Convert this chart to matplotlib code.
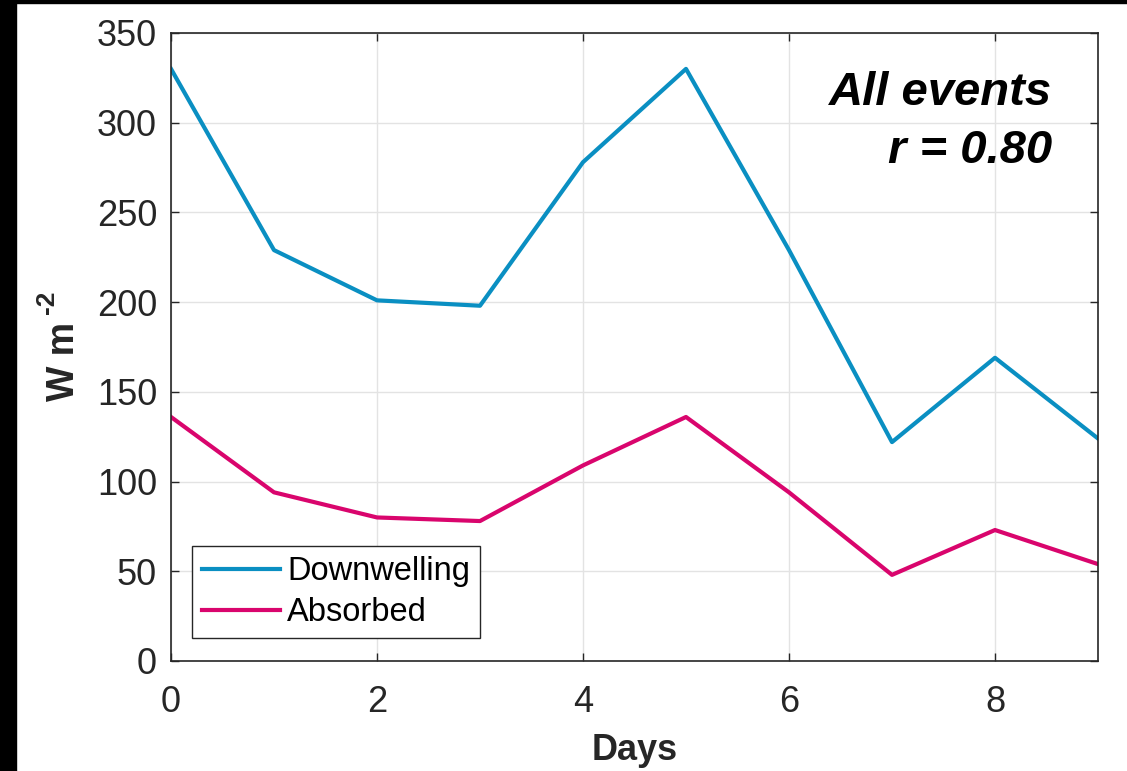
import numpy as np
import matplotlib
matplotlib.use("Agg")
import matplotlib.pyplot as plt
from matplotlib.patches import Rectangle

# ============ DATA ============
days = [0, 1, 2, 3, 4, 5, 6, 7, 8, 9]
downwelling = [330, 229, 201, 198, 278, 330, 229, 122, 169, 124]
absorbed = [136, 94, 80, 78, 109, 136, 94, 48, 73, 54]
series_labels = ["Downwelling", "Absorbed"]
x_ticks = [0, 2, 4, 6, 8]
y_ticks = [0, 50, 100, 150, 200, 250, 300, 350]

# ============ STYLE ============
plt.rcParams['font.family'] = ['Liberation Sans', 'DejaVu Sans']

blue = '#0a8fc2'
pink = '#d9056d'
spine_col = '#262626'

W, H = 1127, 771
fig = plt.figure(figsize=(W / 100, H / 100), dpi=100)
ax = fig.add_axes([171 / W, 1 - 661 / H, 927 / W, 628 / H])

ax.plot(days, downwelling, color=blue, lw=3, label=series_labels[0])
ax.plot(days, absorbed, color=pink, lw=3, label=series_labels[1])

ax.set_xlim(0, 9)
ax.set_ylim(0, 350)
ax.set_xticks(x_ticks)
ax.set_yticks(y_ticks)
ax.grid(True, color='#e3e3e3', lw=1)
ax.set_axisbelow(True)

ax.tick_params(direction='in', top=True, right=True, length=6, width=1,
               color=spine_col, labelsize=26, labelcolor='#262626')
ax.tick_params(axis='x', pad=17)
ax.tick_params(axis='y', pad=10)
for s in ax.spines.values():
    s.set_color(spine_col)
    s.set_linewidth(1.2)

ax.set_xlabel('Days', fontsize=26, fontweight='bold', color='#262626', labelpad=10)

# y label: "W m" with a small raised "-2"
fig.text(64 / W, 1 - 361 / H, 'W m', rotation=90, ha='center', va='center',
         fontsize=27, fontweight='bold', color='#262626')
fig.text(47 / W, 1 - 302 / H, '-2', rotation=90, ha='center', va='center',
         fontsize=19, fontweight='bold', color='#262626')

leg = ax.legend(loc='lower left', bbox_to_anchor=(0.023, 0.037), fontsize=23.5,
                handlelength=2.4, handletextpad=0.2, borderpad=0.3,
                labelspacing=0.3, fancybox=False, framealpha=1,
                edgecolor=spine_col, borderaxespad=0)
leg.get_frame().set_linewidth(1)

ax.text(0.95, 0.885, 'All events', transform=ax.transAxes, ha='right', va='baseline',
        fontsize=34, fontweight='bold', fontstyle='italic')
ax.text(0.95, 0.793, 'r = 0.80', transform=ax.transAxes, ha='right', va='baseline',
        fontsize=34, fontweight='bold', fontstyle='italic')

# black strips on the left and top edge, as in the source image
fig.patches.append(Rectangle((0, 0), 16 / W, 1, transform=fig.transFigure,
                             color='black', zorder=10))
fig.patches.append(Rectangle((0, 1 - 3 / H), 1, 3 / H, transform=fig.transFigure,
                             color='black', zorder=10))

fig.savefig('out.png', dpi=100)
